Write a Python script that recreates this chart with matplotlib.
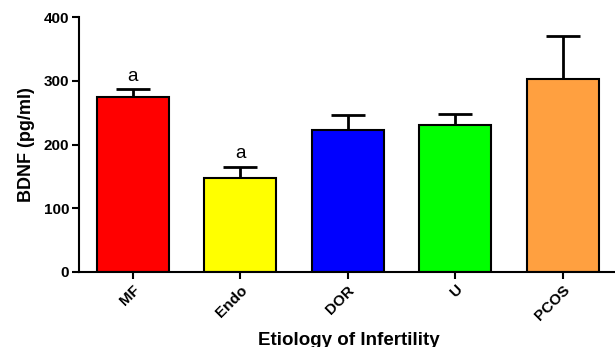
import numpy as np
import matplotlib
matplotlib.use("Agg")
from matplotlib import pyplot as plt

# data
groups = ["MF", "Endo", "DOR", "U", "PCOS"]
means = [274, 148, 223, 231, 303]
sem = [13, 17, 24, 17, 68]
colours = ["#ff0000", "#ffff00", "#0000ff", "#00ff00", "#ffa040"]
letters = ["a", "a", "", "", ""]

plt.rcParams['font.family'] = ['Liberation Sans', 'DejaVu Sans']

fig = plt.figure(figsize=(6.15, 3.47), dpi=100)
ax = fig.add_axes([0.1285, 0.217, 0.877, 0.733])

x = np.arange(len(groups))
ax.bar(x, means, width=0.67, color=colours, edgecolor="black", linewidth=1.5, zorder=2)
ax.errorbar(x, means, yerr=[np.zeros(len(sem)), sem], fmt="none", ecolor="black",
            elinewidth=2, capsize=12, capthick=2, zorder=1)

for i in range(len(groups)):
    if letters[i]:
        ax.text(x[i], means[i] + sem[i] + 7, letters[i], ha="center", va="bottom", fontsize=13.5)

ax.set_xlim(-0.5, 4.52)
ax.set_ylim(0, 400)
ax.set_yticks([0, 100, 200, 300, 400])
ax.set_xticks(x)
ax.set_xticklabels(groups, rotation=45, ha="right", rotation_mode="anchor", fontweight="bold", fontsize=11)
for lab in ax.get_yticklabels():
    lab.set_fontweight("bold")
    lab.set_fontsize(11)

ax.spines["top"].set_visible(False)
ax.spines["right"].set_visible(False)
ax.spines["left"].set_linewidth(1.5)
ax.spines["bottom"].set_linewidth(1.5)
ax.tick_params(axis="both", width=1.5, length=5, direction="out")
ax.tick_params(axis="y", pad=2)
ax.tick_params(axis="x", pad=3)

ax.set_ylabel("BDNF (pg/ml)", fontweight="bold", fontsize=13, labelpad=6)
ax.set_xlabel("Etiology of Infertility", fontweight="bold", fontsize=13.5, labelpad=6)

fig.savefig("out.png", dpi=100)
